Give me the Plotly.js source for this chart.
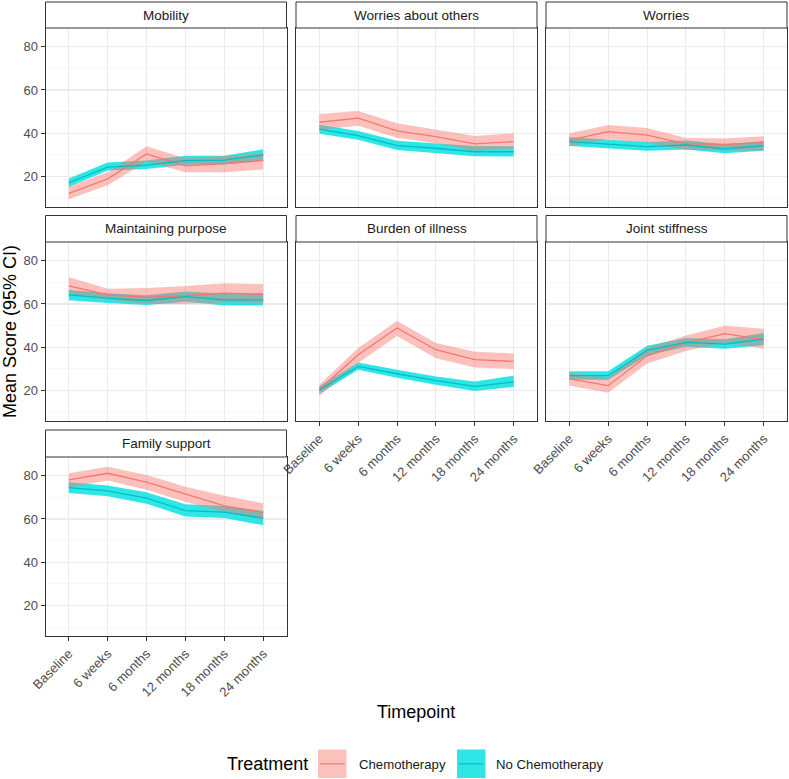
<!DOCTYPE html>
<html><head><meta charset="utf-8">
<script src="https://cdn.plot.ly/plotly-3.0.1.min.js"></script>
<style>html,body{margin:0;padding:0;background:#fff}</style>
</head><body><div id="chart" style="width:789px;height:779px"></div>
<script>
const timepoints = ['Baseline','6 weeks','6 months','12 months','18 months','24 months'];
const panelTitles = ['Mobility','Worries about others','Worries','Maintaining purpose','Burden of illness','Joint stiffness','Family support'];
const groupNames = ['Chemotherapy','No Chemotherapy'];
const yTicks = [20, 40, 60, 80];

// Mobility
const mobilityChemoMean = [12.3, 19.0, 30.5, 25.0, 26.0, 27.5];
const mobilityChemoLow  = [9.6, 16.0, 27.0, 22.0, 22.0, 23.3];
const mobilityChemoHigh = [15.6, 22.0, 34.0, 28.5, 29.5, 31.0];
const mobilityNoneMean  = [17.2, 24.4, 25.3, 27.4, 27.6, 30.0];
const mobilityNoneLow   = [15.3, 22.8, 23.5, 25.5, 25.6, 27.3];
const mobilityNoneHigh  = [19.1, 26.5, 27.4, 29.6, 29.6, 32.6];
// Worries about others
const othersChemoMean = [45.1, 47.0, 41.1, 38.5, 35.1, 36.2];
const othersChemoLow  = [41.6, 43.5, 38.0, 35.4, 32.0, 33.0];
const othersChemoHigh = [48.9, 50.3, 44.6, 41.7, 38.8, 40.0];
const othersNoneMean  = [41.9, 38.9, 34.3, 33.1, 31.5, 31.5];
const othersNoneLow   = [39.8, 37.0, 32.3, 31.0, 29.4, 29.3];
const othersNoneHigh  = [43.9, 41.1, 36.6, 35.4, 34.1, 34.0];
// Worries
const worriesChemoMean = [36.9, 40.8, 39.2, 35.1, 34.9, 35.7];
const worriesChemoLow  = [34.0, 37.3, 35.8, 32.3, 32.0, 32.0];
const worriesChemoHigh = [40.0, 43.8, 42.4, 37.8, 37.6, 38.7];
const worriesNoneMean  = [36.2, 35.1, 33.9, 34.6, 32.8, 34.3];
const worriesNoneLow   = [34.1, 33.0, 31.9, 32.5, 30.8, 32.0];
const worriesNoneHigh  = [38.2, 37.2, 36.0, 36.7, 35.0, 36.5];
// Maintaining purpose
const purposeChemoMean = [68.4, 64.2, 63.1, 63.8, 65.0, 64.5];
const purposeChemoLow  = [65.0, 62.0, 60.0, 60.0, 60.8, 60.5];
const purposeChemoHigh = [72.3, 67.0, 67.4, 68.3, 69.6, 69.2];
const purposeNoneMean  = [64.2, 62.7, 61.6, 63.4, 61.9, 61.9];
const purposeNoneLow   = [61.7, 60.5, 59.5, 61.0, 59.3, 59.3];
const purposeNoneHigh  = [66.5, 65.0, 64.0, 65.8, 64.8, 65.0];
// Burden of illness
const burdenChemoMean = [20.5, 36.6, 48.9, 38.9, 34.3, 33.5];
const burdenChemoLow  = [17.5, 32.8, 45.2, 35.0, 30.7, 30.0];
const burdenChemoHigh = [22.7, 39.7, 52.2, 42.0, 38.0, 37.2];
const burdenNoneMean  = [20.3, 31.2, 27.8, 24.6, 22.0, 24.0];
const burdenNoneLow   = [18.6, 29.7, 26.0, 22.7, 19.9, 21.7];
const burdenNoneHigh  = [22.0, 33.0, 29.7, 26.5, 24.2, 26.9];
// Joint stiffness
const jointChemoMean = [25.4, 22.3, 36.1, 42.0, 46.3, 43.5];
const jointChemoLow  = [22.3, 19.0, 32.5, 38.3, 42.2, 39.3];
const jointChemoHigh = [28.1, 26.0, 39.8, 45.4, 50.0, 48.6];
const jointNoneMean  = [26.9, 26.9, 38.6, 42.3, 41.5, 43.8];
const jointNoneLow   = [25.0, 25.0, 36.2, 40.3, 39.3, 41.0];
const jointNoneHigh  = [29.0, 29.0, 40.7, 44.3, 43.7, 46.6];
// Family support
const familyChemoMean = [78.0, 81.1, 77.0, 71.4, 66.0, 63.0];
const familyChemoLow  = [74.5, 77.7, 73.5, 67.8, 63.2, 59.7];
const familyChemoHigh = [81.1, 84.1, 80.3, 74.9, 70.7, 67.3];
const familyNoneMean  = [74.5, 73.0, 69.6, 63.9, 63.2, 60.4];
const familyNoneLow   = [72.0, 70.5, 67.0, 61.2, 60.5, 57.1];
const familyNoneHigh  = [77.0, 75.5, 72.3, 66.8, 66.0, 63.7];

const panelData = [
  [[mobilityChemoMean, mobilityChemoLow, mobilityChemoHigh], [mobilityNoneMean, mobilityNoneLow, mobilityNoneHigh]],
  [[othersChemoMean, othersChemoLow, othersChemoHigh], [othersNoneMean, othersNoneLow, othersNoneHigh]],
  [[worriesChemoMean, worriesChemoLow, worriesChemoHigh], [worriesNoneMean, worriesNoneLow, worriesNoneHigh]],
  [[purposeChemoMean, purposeChemoLow, purposeChemoHigh], [purposeNoneMean, purposeNoneLow, purposeNoneHigh]],
  [[burdenChemoMean, burdenChemoLow, burdenChemoHigh], [burdenNoneMean, burdenNoneLow, burdenNoneHigh]],
  [[jointChemoMean, jointChemoLow, jointChemoHigh], [jointNoneMean, jointNoneLow, jointNoneHigh]],
  [[familyChemoMean, familyChemoLow, familyChemoHigh], [familyNoneMean, familyNoneLow, familyNoneHigh]]
];

// ---- styling / geometry ----
const W = 789, H = 779;
const FONT = 'Liberation Sans, Arial, Helvetica, sans-serif';
const lineColors = ['#F8766D', '#00BFC4'];
const bandColors = ['rgba(248,118,109,0.45)', 'rgba(0,224,224,0.82)'];
const colL = [45.5, 296, 546], colR = [286.5, 537, 787];
const stripTop = [2, 215.5, 430], plotTop = [28, 242, 457], plotBot = [207, 421, 636];
const panelCol = [0, 1, 2, 0, 1, 2, 0];
const panelRow = [0, 0, 0, 1, 1, 1, 2];
const showXLabels = [false, false, false, false, true, true, true];
const px = p => p / W;
const py = p => 1 - p / H;

const traces = [];
const layout = {
  width: W, height: H,
  margin: {l: 0, r: 0, t: 0, b: 0},
  paper_bgcolor: '#ffffff', plot_bgcolor: '#ffffff',
  showlegend: false,
  font: {family: FONT, color: '#1A1A1A'},
  shapes: [], annotations: []
};

panelTitles.forEach((title, i) => {
  const n = i + 1;
  const xa = n === 1 ? 'x' : 'x' + n;
  const ya = n === 1 ? 'y' : 'y' + n;
  const c = panelCol[i], r = panelRow[i];
  // bands: no-chemo first, chemo on top
  [1, 0].forEach(g => {
    const [mean, lo, hi] = panelData[i][g];
    traces.push({
      type: 'scatter', mode: 'lines', xaxis: xa, yaxis: ya,
      x: timepoints.concat(timepoints.slice().reverse()),
      y: hi.concat(lo.slice().reverse()),
      fill: 'toself', fillcolor: bandColors[g], line: {width: 0},
      hoverinfo: 'skip', name: groupNames[g]
    });
  });
  [0, 1].forEach(g => {
    const [mean] = panelData[i][g];
    traces.push({
      type: 'scatter', mode: 'lines', xaxis: xa, yaxis: ya,
      x: timepoints, y: mean, line: {color: lineColors[g], width: 1.3},
      name: groupNames[g]
    });
  });
  const xKey = n === 1 ? 'xaxis' : 'xaxis' + n;
  const yKey = n === 1 ? 'yaxis' : 'yaxis' + n;
  layout[xKey] = {
    domain: [px(colL[c]), px(colR[c])], anchor: ya,
    type: 'category', categoryorder: 'array', categoryarray: timepoints,
    range: [-0.6, 5.6], showgrid: true, gridcolor: '#EBEBEB', gridwidth: 1.1,
    zeroline: false, showline: true, mirror: true, linecolor: '#333333', linewidth: 1,
    ticks: showXLabels[i] ? 'outside' : '', ticklen: 4, tickcolor: '#333333',
    showticklabels: showXLabels[i], tickangle: -45,
    tickfont: {family: FONT, size: 13, color: '#4D4D4D'}, fixedrange: true
  };
  layout[yKey] = {
    domain: [py(plotBot[r]), py(plotTop[r])], anchor: xa,
    range: [6, 88.6], tickmode: 'array', tickvals: yTicks,
    showgrid: true, gridcolor: '#EBEBEB', gridwidth: 1.1,
    minor: {tick0: 0, dtick: 10, showgrid: true, gridcolor: '#F3F3F3', gridwidth: 0.7, ticks: ''},
    zeroline: false, showline: true, mirror: true, linecolor: '#333333', linewidth: 1,
    ticks: c === 0 ? 'outside' : '', ticklen: 4, tickcolor: '#333333',
    showticklabels: c === 0, tickfont: {family: FONT, size: 13, color: '#4D4D4D'}, fixedrange: true
  };
  // strip
  layout.shapes.push({type: 'rect', xref: 'paper', yref: 'paper',
    x0: px(colL[c]), x1: px(colR[c]), y0: py(plotTop[r]), y1: py(stripTop[r]),
    fillcolor: '#ffffff', line: {color: '#333333', width: 1}});
  layout.annotations.push({xref: 'paper', yref: 'paper', showarrow: false,
    x: px((colL[c] + colR[c]) / 2), y: py((plotTop[r] + stripTop[r]) / 2),
    xanchor: 'center', yanchor: 'middle', text: title,
    font: {family: FONT, size: 13.5, color: '#1A1A1A'}});
});

// axis titles
layout.annotations.push({xref: 'paper', yref: 'paper', showarrow: false,
  x: px(10), y: py(332), xanchor: 'center', yanchor: 'middle', textangle: -90,
  text: 'Mean Score (95% CI)', font: {family: FONT, size: 18, color: '#000000'}});
layout.annotations.push({xref: 'paper', yref: 'paper', showarrow: false,
  x: px(416), y: py(712), xanchor: 'center', yanchor: 'middle',
  text: 'Timepoint', font: {family: FONT, size: 18, color: '#000000'}});

// legend (drawn manually, ggplot style)
layout.annotations.push({xref: 'paper', yref: 'paper', showarrow: false,
  x: px(310), y: py(764), xanchor: 'right', yanchor: 'middle', xshift: 0,
  text: 'Treatment', font: {family: FONT, size: 18, color: '#000000'}});
const keyX = [318, 457], labelX = [357, 494];
groupNames.forEach((name, g) => {
  layout.shapes.push({type: 'rect', xref: 'paper', yref: 'paper',
    x0: px(keyX[g]), x1: px(keyX[g] + 28.5), y0: py(778), y1: py(749.5),
    fillcolor: bandColors[g], line: {width: 0}});
  layout.shapes.push({type: 'line', xref: 'paper', yref: 'paper',
    x0: px(keyX[g] + 2), x1: px(keyX[g] + 26.5), y0: py(763.8), y1: py(763.8),
    line: {color: lineColors[g], width: 1.2}});
  layout.annotations.push({xref: 'paper', yref: 'paper', showarrow: false,
    x: px(labelX[g]), y: py(764), xanchor: 'left', yanchor: 'middle',
    text: name, font: {family: FONT, size: 13.2, color: '#1A1A1A'}});
});

Plotly.newPlot('chart', traces, layout, {staticPlot: true, displayModeBar: false});
</script>
</body></html>
